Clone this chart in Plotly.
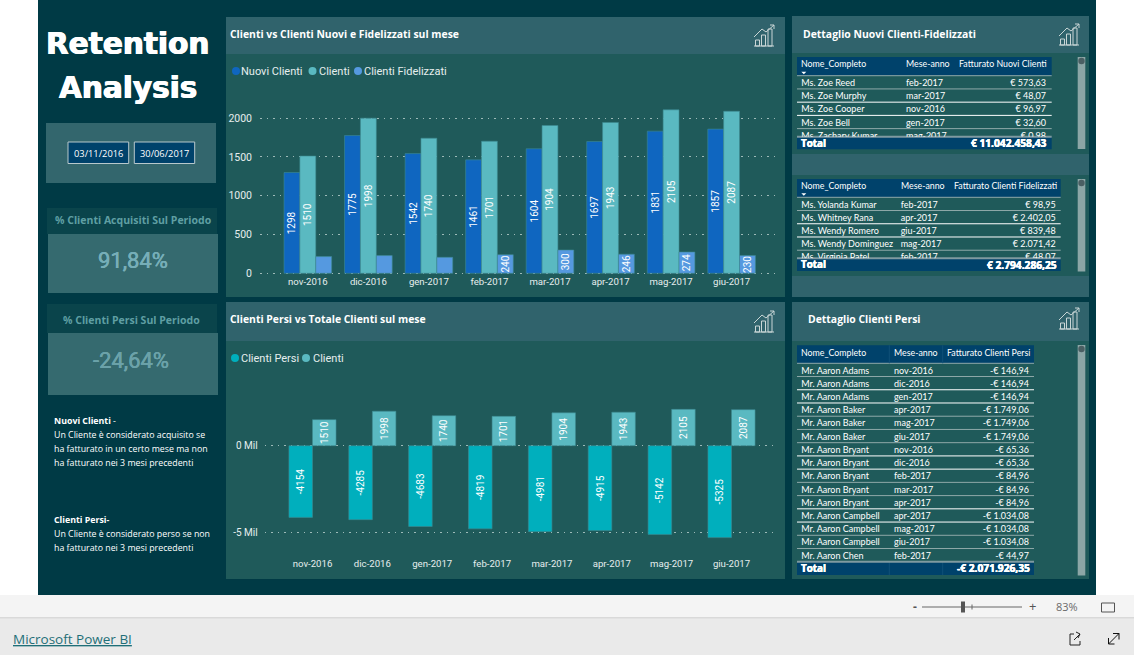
import plotly.graph_objects as go

W, H = 1134, 655

# ---------- data ----------
months = ["nov-2016", "dic-2016", "gen-2017", "feb-2017", "mar-2017", "apr-2017", "mag-2017", "giu-2017"]
nuovi = [1298, 1775, 1542, 1461, 1604, 1697, 1831, 1857]
clienti = [1510, 1998, 1740, 1701, 1904, 1943, 2105, 2087]
fidelizzati = [215, 228, 206, 240, 300, 246, 274, 230]
fidel_labels = ["", "", "", "240", "300", "246", "274", "230"]
persi = [-4154, -4285, -4683, -4819, -4981, -4915, -5142, -5325]

t1_names = ["Ms. Zoe Reed", "Ms. Zoe Murphy", "Ms. Zoe Cooper", "Ms. Zoe Bell", "Ms. Zachary Kumar"]
t1_months = ["feb-2017", "mar-2017", "nov-2016", "gen-2017", "mag-2017"]
t1_values = ["€ 573,63", "€ 48,07", "€ 96,97", "€ 32,60", "€ 0,98"]
t2_names = ["Ms. Yolanda Kumar", "Ms. Whitney Rana", "Ms. Wendy Romero", "Ms. Wendy Dominguez", "Ms. Virginia Patel"]
t2_months = ["feb-2017", "apr-2017", "giu-2017", "mag-2017", "feb-2017"]
t2_values = ["€ 98,95", "€ 2.402,05", "€ 839,48", "€ 2.071,42", "€ 48,07"]
t3_names = ["Mr. Aaron Adams", "Mr. Aaron Adams", "Mr. Aaron Adams", "Mr. Aaron Baker", "Mr. Aaron Baker",
            "Mr. Aaron Baker", "Mr. Aaron Bryant", "Mr. Aaron Bryant", "Mr. Aaron Bryant", "Mr. Aaron Bryant",
            "Mr. Aaron Bryant", "Mr. Aaron Campbell", "Mr. Aaron Campbell", "Mr. Aaron Campbell", "Mr. Aaron Chen"]
t3_months = ["nov-2016", "dic-2016", "gen-2017", "apr-2017", "mag-2017", "giu-2017", "nov-2016", "dic-2016",
             "feb-2017", "mar-2017", "apr-2017", "apr-2017", "mag-2017", "giu-2017", "feb-2017"]
t3_values = ["-€ 146,94", "-€ 146,94", "-€ 146,94", "-€ 1.749,06", "-€ 1.749,06", "-€ 1.749,06", "-€ 65,36", "-€ 65,36",
             "-€ 84,96", "-€ 84,96", "-€ 84,96", "-€ 1.034,08", "-€ 1.034,08", "-€ 1.034,08", "-€ 44,97"]

# ---------- style ----------
DARK = "#003a45"
BODY = "#1f5a5a"
HEAD = "#30636c"
TABLE_HEAD = "#00426b"
C_NUOVI, C_CLIENTI, C_FIDEL, C_PERSI = "#0f66c0", "#5ab9c1", "#5599e0", "#00afbd"
GRID = "#9dbab8"
DOTS = "1.5px,5px"
TITLE_FONT = "Open Sans"
BODY_FONT = "Open Sans"
TABLE_FONT = "Lato"
AXIS_FONT = "Roboto"


def X(p):
    return p / W


def Y(p):
    return 1 - p / H


shapes, annots = [], []


def rect(x0, y0, x1, y1, fill, line=None, lw=1, layer="below"):
    shapes.append(dict(type="rect", xref="paper", yref="paper", x0=X(x0), x1=X(x1), y0=Y(y0), y1=Y(y1),
                       fillcolor=fill, line=dict(color=line or fill, width=lw if line else 0), layer=layer))


def seg(x0, y0, x1, y1, color, lw=1, layer="below"):
    shapes.append(dict(type="line", xref="paper", yref="paper", x0=X(x0), x1=X(x1), y0=Y(y0), y1=Y(y1),
                       line=dict(color=color, width=lw), layer=layer))


def dot(cx, cy, r, color):
    shapes.append(dict(type="circle", xref="paper", yref="paper", x0=X(cx - r), x1=X(cx + r), y0=Y(cy + r), y1=Y(cy - r),
                       fillcolor=color, line=dict(width=0), layer="below"))


def text(x, y, s, size=10, color="white", font=BODY_FONT, anchor="left", heavy=0):
    f = dict(size=size, color=color, family=font)
    if heavy:
        f["shadow"] = "%spx 0 0 %s, -%spx 0 0 %s" % (heavy, color, heavy, color)
    annots.append(dict(xref="paper", yref="paper", x=X(x), y=Y(y), text=s, showarrow=False, xanchor=anchor,
                       yanchor="middle", font=f, borderpad=0, borderwidth=0))


def icon(x, y):
    c = "#c9d6d6"
    seg(x, y + 22, x + 20, y + 22, c)
    for bx, bh, bw in [(1.5, 6, 4), (7.5, 11, 4), (14, 17, 4)]:
        shapes.append(dict(type="rect", xref="paper", yref="paper", x0=X(x + bx), x1=X(x + bx + bw),
                           y0=Y(y + 22), y1=Y(y + 22 - bh), line=dict(color=c, width=1), layer="below"))
    for a, b, d, e in [(0, 13, 8, 5), (8, 5, 12, 8), (12, 8, 20, 1)]:
        seg(x + a, y + b, x + d, y + e, c)
    seg(x + 16, y + 1, x + 20, y + 1, c)
    seg(x + 20, y + 1, x + 20, y + 5, c)


# ---------- page ----------
rect(0, 595, W, 617.5, "#f4f4f4")
rect(0, 617.5, W, H, "#eaeaea")
seg(0, 617.8, W, 617.8, "#cfcfcf", 1)
rect(38, 0, 1096, 595, DARK)

# panels
for x0, y0, x1, y1, yh in [(226, 17, 785, 297, 54), (226, 302, 785, 579, 341), (792, 302, 1089, 579, 341)]:
    rect(x0, y0, x1, y1, BODY)
    rect(x0, y0, x1, yh, HEAD)
rect(792, 16, 1089, 297, HEAD)
rect(792, 53, 1089, 154, BODY)
rect(792, 175, 1089, 276, BODY)

icon(754, 24)
icon(754, 310)
icon(1059, 23)
icon(1059, 307)

text(230, 34, "<b>Clienti vs Clienti Nuovi e Fidelizzati sul mese</b>", 10.4, font=TITLE_FONT)
text(230, 319, "<b>Clienti Persi vs Totale Clienti sul mese</b>", 10.4, font=TITLE_FONT)
text(802.5, 34, "<b>Dettaglio Nuovi Clienti-Fidelizzati</b>", 10.4, font=TITLE_FONT)
text(808.5, 319, "<b>Dettaglio Clienti Persi</b>", 10.4, font=TITLE_FONT)

# legends
for cx, tx, col, lab in [(236, 241, C_NUOVI, "Nuovi Clienti"), (312.5, 319, C_CLIENTI, "Clienti"),
                         (358, 364, C_FIDEL, "Clienti Fidelizzati")]:
    dot(cx, 71, 4, col)
    text(tx, 71, lab, 11, "#e6eeee", AXIS_FONT)
for cx, tx, col, lab in [(235, 241, C_PERSI, "Clienti Persi"), (306, 312.5, C_CLIENTI, "Clienti")]:
    dot(cx, 358, 4, col)
    text(tx, 358, lab, 11, "#e6eeee", AXIS_FONT)

# left column
text(127.5, 43.5, "<b>Retention</b>", 29.5, font="DejaVu Sans", anchor="center", heavy=0.6)
text(127.5, 88, "<b>Analysis</b>", 29.5, font="DejaVu Sans", anchor="center", heavy=0.6)
rect(46, 123, 216, 183, "#33666d")
rect(68, 142, 128.7, 163.5, TABLE_HEAD, "#b8c8cc", 1)
rect(134.3, 142, 194.7, 163.5, TABLE_HEAD, "#b8c8cc", 1)
text(98.5, 153, "03/11/2016", 9.3, anchor="center")
text(164.5, 153, "30/06/2017", 9.3, anchor="center")

rect(47, 208, 217, 234, "#0a444b")
rect(48, 234, 218, 293, "#356a6f")
text(133, 220, "<b>% Clienti Acquisiti Sul Periodo</b>", 10.5, "#5f9fa3", anchor="center")
text(133, 260, "91,84%", 22, "#76aeb8", AXIS_FONT, "center", heavy=0.2)
rect(47, 304, 217, 333, "#0a444b")
rect(48, 333, 218, 395, "#356a6f")
text(131, 320, "<b>% Clienti Persi Sul Periodo</b>", 10.5, "#5f9fa3", anchor="center")
text(131, 360, "-24,64%", 22, "#6ba2a9", AXIS_FONT, "center", heavy=0.2)

text(53.5, 420.7, "<b>Nuovi Clienti</b> -", 8.8)
text(53.5, 434.7, "Un Cliente è considerato acquisito se", 8.8)
text(53.5, 448.7, "ha fatturato in un certo mese ma non", 8.8)
text(53.5, 462.7, "ha fatturato nei 3 mesi precedenti", 8.8)
text(53.5, 520, "<b>Clienti Persi-</b>", 8.8)
text(53.5, 534, "Un Cliente è considerato perso se non", 8.8)
text(53.5, 547.7, "ha fatturato nei 3 mesi precedenti", 8.8)

# bottom bar
text(13, 639, "<u>Microsoft Power BI</u>", 13.5, "#1f6f78")
text(915, 606, "<b>-</b>", 12, "#555555", anchor="center")
seg(922, 607, 1022, 607, "#666666", 1)
rect(961, 601.5, 965, 612.5, "#555555", layer="above")
seg(972, 604.5, 972, 609.5, "#666666", 1)
text(1032, 606, "+", 13, "#555555", anchor="center")
text(1067, 606.5, "83%", 11, "#6a6a6a", anchor="center")
shapes.append(dict(type="rect", xref="paper", yref="paper", x0=X(1101.5), x1=X(1114.5), y0=Y(612), y1=Y(603),
                   line=dict(color="#555555", width=1), layer="below"))
for a, b, c, d in [(1070, 634, 1070, 645), (1070, 645, 1080, 645), (1080, 645, 1080, 641), (1070, 634, 1074, 634),
                   (1074, 640, 1080, 634), (1080, 634, 1076, 632), (1080, 634, 1078, 638)]:
    seg(a, b, c, d, "#222222", 1)
for a, b, c, d in [(1108.5, 644, 1119, 633.5), (1119, 633.5, 1113, 633.5), (1119, 633.5, 1119, 639.5),
                   (1108.5, 644, 1108.5, 638), (1108.5, 644, 1114.5, 644)]:
    seg(a, b, c, d, "#111111", 1)

fig = go.Figure()


def labels(vals):
    return [str(v) for v in vals]


def add_bar(vals, col, txt, xa, ya):
    fig.add_trace(go.Bar(x=months, y=vals, marker=dict(color=col, line=dict(color="#3e8a90", width=0.6)),
                         text=txt, textposition="inside", insidetextanchor="middle", textangle=-90,
                         constraintext="none", textfont=dict(size=10, color="white", family=AXIS_FONT),
                         cliponaxis=False, xaxis=xa, yaxis=ya, showlegend=False, hoverinfo="skip",
                         offsetgroup=str(col)))


add_bar(nuovi, C_NUOVI, labels(nuovi), "x", "y")
add_bar(clienti, C_CLIENTI, labels(clienti), "x", "y")
add_bar(fidelizzati, C_FIDEL, fidel_labels, "x", "y")
add_bar(persi, C_PERSI, labels(persi), "x2", "y2")
add_bar(clienti, C_CLIENTI, labels(clienti), "x2", "y2")

axis_font = dict(size=9.6, color="#e6eeee", family=AXIS_FONT)
layout = dict(
    xaxis=dict(domain=[X(260), X(777)], range=[-0.79, 7.75], type="category", anchor="y", showgrid=False,
               zeroline=False, showline=False, ticks="", tickfont=axis_font, tickangle=0, ticklabelstandoff=-2),
    yaxis=dict(domain=[Y(276.4), Y(100)], range=[-40, 2232], anchor="x", tickvals=[0, 500, 1000, 1500, 2000],
               ticktext=["0", "500", "1000", "1500", "2000"], showgrid=True, gridcolor=GRID, griddash=DOTS,
               gridwidth=1, zeroline=False, showline=False, ticks="", tickfont=dict(size=10.5, color="#e6eeee", family=AXIS_FONT),
               ticklabelstandoff=7),
    xaxis2=dict(domain=[X(264.6), X(777)], range=[-0.80, 7.76], type="category", anchor="y2", showgrid=False,
                zeroline=False, showline=False, ticks="", tickfont=axis_font, tickangle=0, ticklabelstandoff=3),
    yaxis2=dict(domain=[Y(553), Y(400)], range=[-6217, 2648], anchor="x2", tickvals=[-5000, 0],
                ticktext=["-5 Mil", "0 Mil"], showgrid=True, gridcolor=GRID, griddash=DOTS, gridwidth=1,
                zeroline=False, showline=False, ticks="", tickfont=dict(size=10, color="#e6eeee", family=AXIS_FONT),
                ticklabelstandoff=6),
)


# ---------- tables ----------
def table(idx, x0, x1, ytop, yhead, ybody, ytotal, nx, mx, vx, heads, names, mths, vals, total, seps, vsep=None):
    rect(x0, ytop, x1, yhead, TABLE_HEAD)
    rect(x0, ybody, x1, ytotal, TABLE_HEAD)
    seg(x0, yhead, x1, yhead, "#8fa9a9", 1)
    ty = (ytop + yhead) / 2 - 2.5 if vsep is None else (ytop + yhead) / 2 - 2
    text(nx, ty, heads[0], 8.8, font=TABLE_FONT)
    text(mx, ty, heads[1], 8.8, font=TABLE_FONT)
    text(vx, ty, heads[2], 8.8, font=TABLE_FONT, anchor="right")
    text(nx, (ybody + ytotal) / 2, "<b>Total</b>", 9.8, heavy=0.25)
    text(vx, (ybody + ytotal) / 2, "<b>%s</b>" % total, 10.2, anchor="right", heavy=0.25)
    if vsep is None:
        shapes.append(dict(type="path", xref="paper", yref="paper",
                           path="M %f %f L %f %f L %f %f Z" % (X(nx), Y(yhead - 4), X(nx + 5), Y(yhead - 4), X(nx + 2.5), Y(yhead - 1.5)),
                           fillcolor="white", line=dict(width=0), layer="below"))
    else:
        for v in vsep:
            seg(v, ytop, v, yhead, "#0f5078", 1)
            seg(v, ybody, v, ytotal, "#0f5078", 1)
    pitch = 13.23
    nrows = (ybody - yhead) / pitch
    for i, white in enumerate(seps):
        yy = yhead + (i + 1) * pitch
        if yy < ybody - 1:
            seg(x0, yy, x1, yy, "#ffffff" if white else "#8fa9a9", 1)
    seg(x0, ybody, x1, ybody, "#7f9aa0", 2)
    xn, yn = "x%d" % idx, "y%d" % idx
    rows = [i + 0.6 for i in range(len(names))]
    base = dict(mode="text", cliponaxis=True, xaxis=xn, yaxis=yn, showlegend=False, hoverinfo="skip",
                y=rows, textfont=dict(size=9.0, color="white", family=TABLE_FONT))
    fig.add_trace(go.Scatter(x=[nx - x0] * len(rows), text=names, textposition="middle right", **base))
    fig.add_trace(go.Scatter(x=[mx - x0] * len(rows), text=mths, textposition="middle right", **base))
    fig.add_trace(go.Scatter(x=[vx - x0 - 1] * len(rows), text=vals, textposition="middle left", **base))
    layout["xaxis%d" % idx] = dict(domain=[X(x0), X(x1)], range=[0, x1 - x0], visible=False, anchor=yn)
    layout["yaxis%d" % idx] = dict(domain=[Y(ybody), Y(yhead)], range=[nrows, 0], visible=False, anchor=xn)


table(3, 797, 1051.7, 57, 75.7, 136.7, 149.3, 801.3, 906, 1047,
      ["Nome_Completo", "Mese-anno", "Fatturato Nuovi Clienti"], t1_names, t1_months, t1_values,
      "€ 11.042.458,43", [0, 1, 1, 0, 0])
table(4, 797, 1060.7, 179, 197.3, 258.3, 271, 801.3, 900.7, 1056.7,
      ["Nome_Completo", "Mese-anno", "Fatturato Clienti Fidelizzati"], t2_names, t2_months, t2_values,
      "€ 2.794.286,25", [0, 1, 1, 0, 0])
table(5, 797, 1034, 345.3, 363.3, 561.7, 575, 801.3, 894, 1030,
      ["Nome_Completo", "Mese-anno", "Fatturato Clienti Persi"], t3_names, t3_months, t3_values,
      "-€ 2.071.926,35", [0, 1, 1, 0, 0, 0, 1, 1, 0, 0, 1, 1, 0, 0, 0], vsep=[889.3, 942.7])

# scrollbars
for y0, y1 in [(57, 149), (179, 271.5), (345, 575.5)]:
    shapes.append(dict(type="rect", xref="paper", yref="paper", x0=X(1077.7), x1=X(1085.3), y0=Y(y1), y1=Y(y0),
                       fillcolor="#8ca6a6", line=dict(width=0), layer="below"))
    dot(1081.5, y0 + 4, 3.2, "#4a5f63")

fig.update_layout(width=W, height=H, margin=dict(l=0, r=0, t=0, b=0, autoexpand=False), paper_bgcolor="white",
                  plot_bgcolor="rgba(0,0,0,0)", barmode="group", bargap=0.213, bargroupgap=0,
                  shapes=shapes, annotations=annots, showlegend=False, hovermode=False, **layout)
fig.write_html("out.html", config={"displayModeBar": False},
               post_script="document.body.style.margin='0';document.body.style.overflow='hidden';")
